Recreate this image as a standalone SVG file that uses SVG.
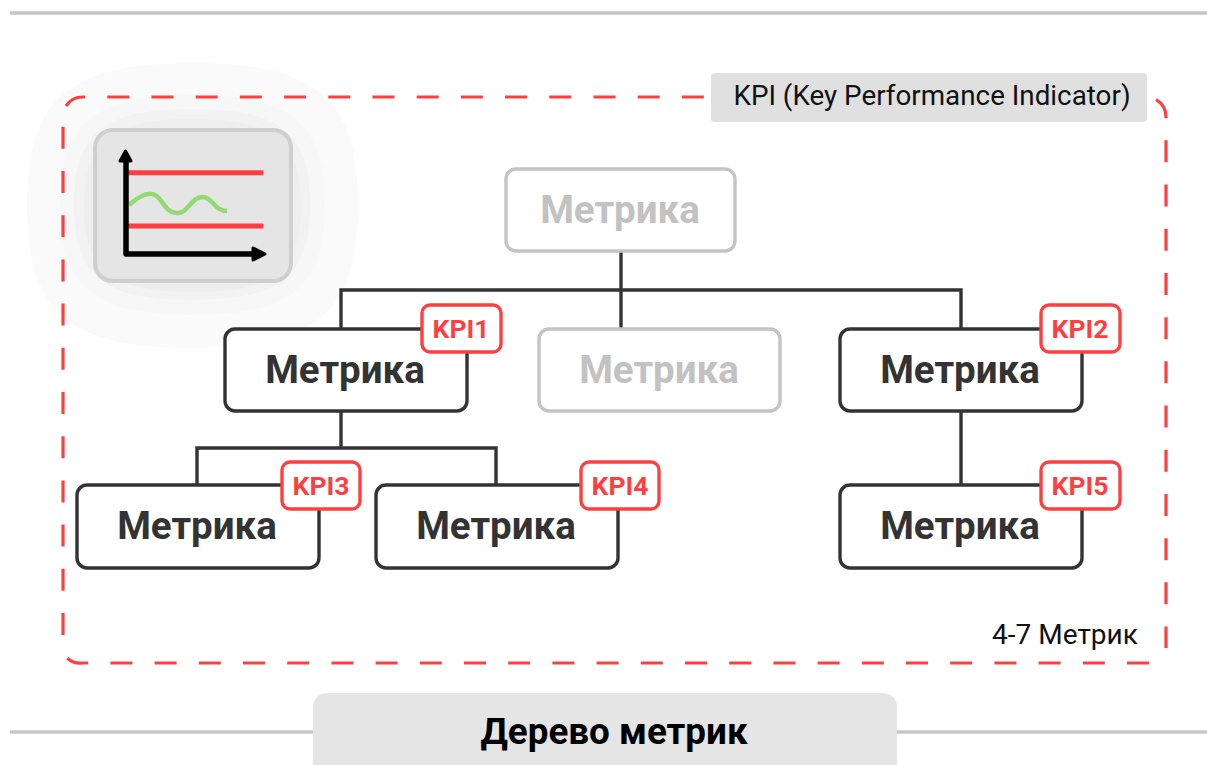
<svg xmlns="http://www.w3.org/2000/svg" width="1207" height="765" viewBox="0 0 1207 765">
<style>
text{font-family:Roboto,"Noto Sans",sans-serif;text-anchor:middle}
.n{fill:#fff;stroke:#333;stroke-width:3.4}
.g{fill:#fff;stroke:#c4c4c4;stroke-width:3.4}
.t{font-size:38.5px;font-weight:700;fill:#333}
.tg{font-size:38.5px;font-weight:700;fill:#c2c2c2}
.kb{fill:#fff;stroke:#ff3f3f;stroke-width:3.4}
.kt{font-size:26.5px;font-weight:700;fill:#ff3f3f}
.c{fill:none;stroke:#333;stroke-width:3.4}
</style>
<g id="rules" fill="none" stroke="#c6c6c6" stroke-width="3.4">
<path d="M10 13H1207"/><path d="M10 732H1207"/>
</g>
<g id="halo">
<path fill="#fafafa" d="M192.5 63C316.5 63 358 98.500 358 205.500S316.500 348 192.500 348S27 312.500 27 205.500S68.500 63 192.500 63Z"/>
<path fill="#f7f7f7" d="M192.500 95C291.500 95 325 123 325 205S291.500 315 192.500 315S60 287 60 205S93.500 95 192.500 95Z"/>
<path fill="#f2f2f2" d="M192 109C280 109 310 132.500 310 204.500S280 300 192 300S74 276.500 74 204.500S104 109 192 109Z"/>
<path fill="#eeeeee" d="M192.500 119C273.500 119 301 140.500 301 205.500S273.500 292 192.500 292S84 270.500 84 205.500S111.500 119 192.500 119Z"/>
</g>
<g id="frame">
<path fill="none" stroke="#ff3f3f" stroke-width="3.200" stroke-dasharray="22 22.2" d="M66 106A20 20 0 0 1 83 97H1146M1156 99.700A20 20 0 0 1 1166 117V648M1149 663H83A20 20 0 0 1 66 657M63 635V126"/>
</g>
<g id="icon">
<rect x="95" y="130" width="196" height="151" rx="18" fill="#e5e5e5" stroke="#cfcfcf" stroke-width="4"/>
<path d="M128 172.700H263.500M128 226H263.500" stroke="#ff3f3f" stroke-width="5" fill="none"/>
<path d="M129 205C138 197 148 191 155 195C163 199 164 212 177 213C189 213 190 198 202 197C213 197 214 211 227 211" fill="none" stroke="#93d975" stroke-width="4.500"/>
<path d="M126 155V254H258" fill="none" stroke="#000" stroke-width="5.500" stroke-linejoin="round"/>
<path d="M125.500 151L131 161H120Z" fill="#000" stroke="#000" stroke-width="3" stroke-linejoin="round"/>
<path d="M265 254L253 248V260Z" fill="#000" stroke="#000" stroke-width="3" stroke-linejoin="round"/>
</g>
<g id="connectors">
<path class="c" d="M621 251V328M341 328V290H961V328"/>
<path class="c" d="M341 411V448M197 485V448H496V485"/>
<path class="c" d="M961 411V485"/>
</g>
<g id="node-root"><rect class="g" x="506" y="169" width="229" height="82" rx="10"/><text class="tg" x="620" y="223">Метрика</text></g>
<g id="node-a"><rect class="n" x="225" y="329" width="242" height="82" rx="10"/><text class="t" x="345" y="383">Метрика</text></g>
<g id="node-b"><rect class="g" x="539" y="329" width="241" height="82" rx="10"/><text class="tg" x="659" y="383">Метрика</text></g>
<g id="node-c"><rect class="n" x="840" y="329" width="242" height="82" rx="10"/><text class="t" x="960" y="383">Метрика</text></g>
<g id="node-d"><rect class="n" x="77" y="485" width="242" height="83" rx="10"/><text class="t" x="197" y="539">Метрика</text></g>
<g id="node-e"><rect class="n" x="376" y="485" width="242" height="83" rx="10"/><text class="t" x="496" y="539">Метрика</text></g>
<g id="node-f"><rect class="n" x="840" y="485" width="242" height="83" rx="10"/><text class="t" x="960" y="539">Метрика</text></g>
<g id="kpi1"><rect class="kb" x="422" y="305" width="79" height="47" rx="8"/><text class="kt" x="461" y="338">KPI1</text></g>
<g id="kpi2"><rect class="kb" x="1041" y="305" width="79" height="47" rx="8"/><text class="kt" x="1080" y="338">KPI2</text></g>
<g id="kpi3"><rect class="kb" x="282" y="462" width="78" height="47" rx="8"/><text class="kt" x="321" y="495">KPI3</text></g>
<g id="kpi4"><rect class="kb" x="581" y="462" width="78" height="47" rx="8"/><text class="kt" x="620" y="495">KPI4</text></g>
<g id="kpi5"><rect class="kb" x="1041" y="462" width="79" height="47" rx="8"/><text class="kt" x="1080" y="495">KPI5</text></g>
<g id="label-kpi"><rect x="711" y="73" width="436" height="49" rx="4" fill="#e0e0e0"/><text x="932" y="105" font-size="27.800" fill="#111">KPI (Key Performance Indicator)</text></g>
<text x="1065" y="644" font-size="28" fill="#111">4-7 Метрик</text>
<g id="title"><path d="M313 765V707a14 14 0 0 1 14-14H883a14 14 0 0 1 14 14V765Z" fill="#e5e5e5"/><text x="614" y="744" font-size="36.800" font-weight="700" fill="#000">Дерево метрик</text></g>
</svg>
